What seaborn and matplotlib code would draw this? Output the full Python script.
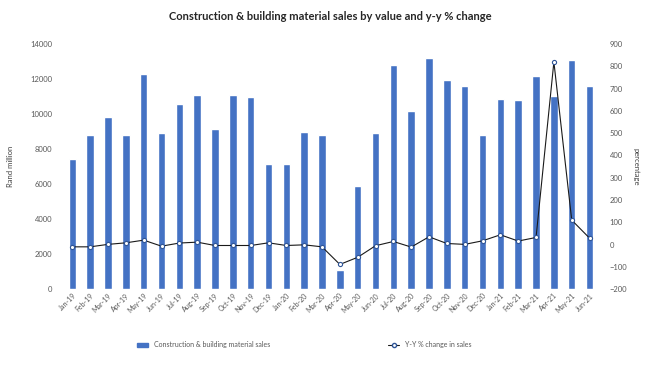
import matplotlib
matplotlib.use('Agg')
import matplotlib.pyplot as plt
import seaborn as sns
import pandas as pd
import numpy as np
from matplotlib.lines import Line2D
from matplotlib.patches import Patch

months = ['Jan-19', 'Feb-19', 'Mar-19', 'Apr-19', 'May-19', 'Jun-19', 'Jul-19', 'Aug-19',
          'Sep-19', 'Oct-19', 'Nov-19', 'Dec-19', 'Jan-20', 'Feb-20', 'Mar-20', 'Apr-20',
          'May-20', 'Jun-20', 'Jul-20', 'Aug-20', 'Sep-20', 'Oct-20', 'Nov-20', 'Dec-20',
          'Jan-21', 'Feb-21', 'Mar-21', 'Apr-21', 'May-21', 'Jun-21']
sales = [7450, 8800, 9850, 8800, 12300, 8950, 10550, 11100, 9150, 11100, 10950, 7150,
         7150, 9000, 8800, 1100, 5900, 8900, 12800, 10200, 13200, 11950, 11600, 8800,
         10850, 10800, 12150, 11050, 13100, 11600]
yy_change = [-10, -10, 1, 8, 20, -7, 7, 11, -4, -4, -4, 8,
             -4, -1, -10, -89, -57, -5, 14, -11, 35, 5, 1, 17,
             44, 16, 32, 820, 110, 29]

sns.set_style('white')
plt.rcParams['font.family'] = ['Lato', 'DejaVu Sans']

df = pd.DataFrame({'month': months, 'sales': sales, 'yy': yy_change})
bar_col = '#4472c4'

fig, ax = plt.subplots(figsize=(6.47, 3.77), dpi=100)
fig.subplots_adjust(left=0.098, right=0.925, top=0.883, bottom=0.233)

sns.barplot(data=df, x='month', y='sales', color=bar_col, width=0.42,
            saturation=1, ax=ax)
ax.set_ylim(0, 14000)
ax.set_yticks(range(0, 14001, 2000))
ax.set_xlim(-0.5, len(months) - 0.5)
ax.set_xlabel('')
ax.set_ylabel('Rand million', fontsize=5.5, color='#404040', labelpad=12)
ax.tick_params(axis='y', labelsize=5.5, colors='#595959', length=0, pad=8)
ax.tick_params(axis='x', labelsize=5, colors='#595959', length=0, pad=2)
for lbl in ax.get_xticklabels():
    lbl.set_rotation(45)
    lbl.set_ha('right')
    lbl.set_rotation_mode('anchor')

ax2 = ax.twinx()
sns.lineplot(x=np.arange(len(months)), y=df['yy'], color='#1a1a1a', lw=0.8,
             marker='o', ms=3, markerfacecolor='white', markeredgecolor='#2f5597',
             markeredgewidth=0.8, ax=ax2)
ax2.set_ylim(-200, 900)
ax2.set_yticks(range(-200, 901, 100))
ax2.set_ylabel('percentage', fontsize=5.5, color='#404040', rotation=270, labelpad=9)
ax2.tick_params(axis='y', labelsize=5.5, colors='#595959', length=0, pad=8)

for a in (ax, ax2):
    for s in a.spines.values():
        s.set_visible(False)

fig.suptitle('Construction & building material sales by value and y-y % change',
             fontsize=8, fontweight='bold', x=0.51, y=0.972)

handles = [Patch(color=bar_col),
           Line2D([0], [0], color='#1a1a1a', lw=0.8, marker='o', ms=3,
                  markerfacecolor='white', markeredgecolor='#2f5597')]
fig.legend(handles, ['Construction & building material sales', 'Y-Y % change in sales'],
           loc='center', bbox_to_anchor=(0.47, 0.085), ncol=2, frameon=False,
           fontsize=5, columnspacing=17, handlelength=1.6, handleheight=0.5,
           labelcolor='#595959')

plt.savefig('out.png', dpi=100)
